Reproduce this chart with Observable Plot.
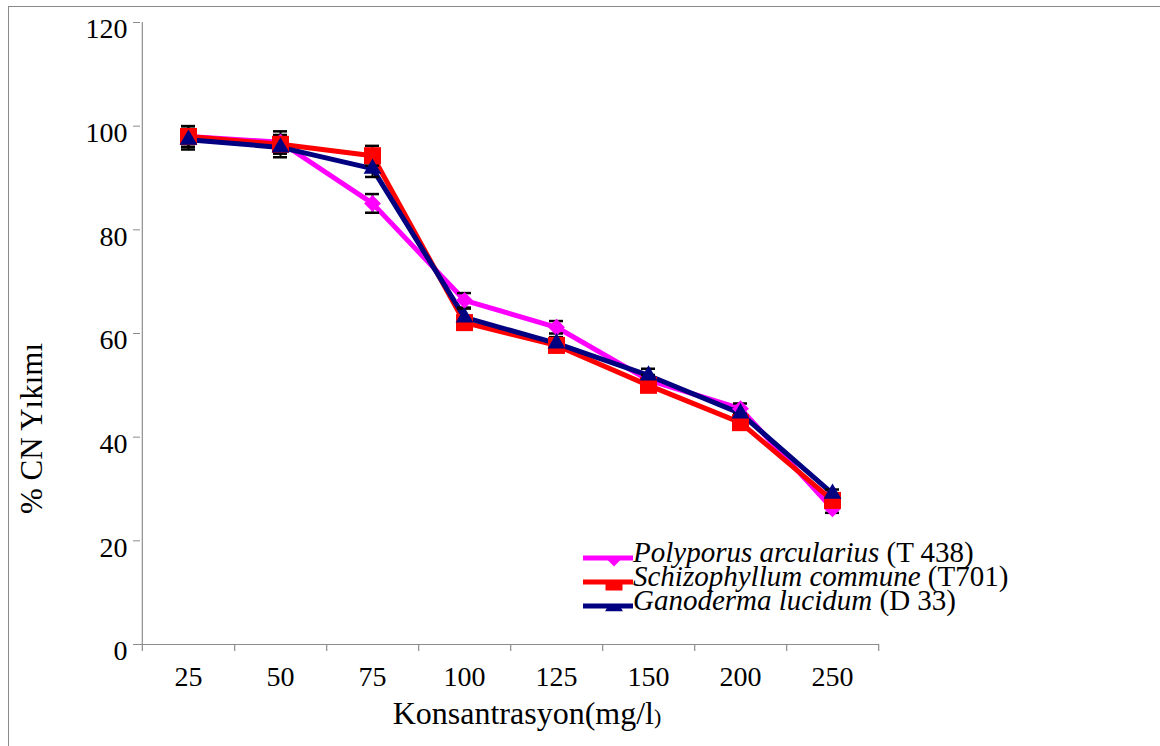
<!DOCTYPE html>
<html>
<head>
<meta charset="utf-8">
<script src="https://cdn.jsdelivr.net/npm/d3@7"></script>
<script src="https://cdn.jsdelivr.net/npm/@observablehq/plot@0.6"></script>
<style>
  body { margin: 0; background: #fff; }
  #wrap { position: relative; width: 1160px; height: 746px; overflow: hidden;
          font-family: "Liberation Serif", "Times New Roman", serif; background: #fff; }
  #edge { position: absolute; left: 8px; top: 6px; right: -4px; bottom: -4px;
          border-left: 1.5px solid #8a8a8a; border-top: 1.5px solid #8a8a8a; }
  #chart, #legend { position: absolute; left: 0; top: 0; }
</style>
</head>
<body>
<div id="wrap">
  <div id="edge"></div>
  <div id="chart"></div>
  <svg id="legend" width="1160" height="746"></svg>
</div>
<script>
// Concentration categories (mg/l)
const concentrations = ["25", "50", "75", "100", "125", "150", "200", "250"];
const yTicks = [0, 20, 40, 60, 80, 100, 120];

// % CN degradation per strain
const polyporus     = [98.0, 96.9, 85.1, 66.4, 61.2, 51.0, 45.5, 26.2];
const schizophyllum = [98.0, 96.5, 94.3, 62.1, 57.7, 50.0, 42.8, 27.8];
const ganoderma     = [97.4, 95.9, 91.8, 63.1, 58.1, 51.9, 44.6, 29.1];

// standard errors
const polyporusErr     = [2.0, 2.1, 1.8, 1.4, 1.2, 1.0, 1.0, 0.8];
const schizophyllumErr = [2.0, 1.8, 1.9, 1.0, 1.0, 1.0, 0.8, 0.8];
const ganodermaErr     = [1.9, 1.9, 1.6, 1.7, 1.2, 1.3, 1.0, 0.8];

const seriesNames = ["Polyporus arcularius", "Schizophyllum commune", "Ganoderma lucidum"];
const seriesCodes = ["(T 438)", "(T701)", "(D 33)"];
const seriesColors = ["#ff00ff", "#ff0000", "#000080"];

const series = [
  {name: seriesNames[0], values: polyporus, errors: polyporusErr, color: seriesColors[0], symbol: d3.symbolDiamond2, r: 7.6},
  {name: seriesNames[1], values: schizophyllum, errors: schizophyllumErr, color: seriesColors[1], symbol: d3.symbolSquare, r: 9.6},
  {name: seriesNames[2], values: ganoderma, errors: ganodermaErr, color: seriesColors[2], symbol: d3.symbolTriangle, r: 6.6}
];

const W = 1160, H = 746, ML = 140, MR = 281, MT = 22, MB = 102;
const step = (W - ML - MR) / concentrations.length;
const axisGray = "#8c8c8c";
const tickDepth = -1.35;
const serif = "Liberation Serif, Times New Roman, serif";

const rows = series.map(s => concentrations.map((c, i) => ({series: s.name, cat: c, v: s.values[i], e: s.errors[i]})));

const marks = [
  // axis lines and category boundary ticks
  Plot.ruleY([0], {stroke: axisGray, strokeWidth: 1.2}),
  Plot.ruleX([concentrations[0]], {y1: tickDepth, y2: 120, dx: -step / 2, stroke: axisGray, strokeWidth: 1.2}),
  Plot.ruleX(concentrations, {y1: tickDepth, y2: 0, dx: step / 2, stroke: axisGray, strokeWidth: 1.2}),
  // y tick marks, then y tick labels (labels sit a little below their ticks)
  Plot.axisY({ticks: yTicks, tickSize: 7, stroke: axisGray, fill: "none", label: null}),
  Plot.axisY({ticks: yTicks, tickSize: 0, tickPadding: 13, dy: 7, fontSize: 28, fill: "black", label: null}),
  Plot.axisX({tickSize: 0, tickPadding: 22, fontSize: 28, fill: "black", label: null}),
  // axis titles
  Plot.text(["% CN Yıkımı"], {frameAnchor: "left", textAnchor: "middle", lineAnchor: "middle",
    rotate: -90, dx: -108, dy: 95, fontSize: 31, fill: "black"}),
  Plot.text(["Konsantrasyon(mg/l)"], {frameAnchor: "bottom", textAnchor: "middle", lineAnchor: "middle",
    dx: 17, dy: 69, fontSize: 32, fill: "black"})
];

// lines
series.forEach((s, k) => {
  marks.push(Plot.line(rows[k], {x: "cat", y: "v", stroke: s.color, strokeWidth: 5, strokeLinejoin: "round"}));
});
// error bars
series.forEach((s, k) => {
  marks.push(
    Plot.ruleX(rows[k], {x: "cat", y1: d => d.v - d.e, y2: d => d.v + d.e, stroke: "black", strokeWidth: 2}),
    Plot.ruleY(rows[k], {x1: "cat", x2: "cat", y: d => d.v + d.e, insetLeft: -7, insetRight: -7, stroke: "black", strokeWidth: 2.5}),
    Plot.ruleY(rows[k], {x1: "cat", x2: "cat", y: d => d.v - d.e, insetLeft: -7, insetRight: -7, stroke: "black", strokeWidth: 2.5})
  );
});
// markers
series.forEach((s, k) => {
  marks.push(Plot.dot(rows[k], {x: "cat", y: "v", symbol: s.symbol, r: s.r, fill: s.color, stroke: "none"}));
});

const chart = Plot.plot({
  width: W, height: H,
  marginLeft: ML, marginRight: MR, marginTop: MT, marginBottom: MB,
  style: {fontFamily: serif, fontSize: "28px", background: "transparent", overflow: "visible"},
  x: {type: "point", domain: concentrations, padding: 0.5, align: 0.5},
  y: {domain: [0, 120]},
  marks
});
document.getElementById("chart").appendChild(chart);

// smaller closing parenthesis in the x title
d3.select(chart).selectAll("text").each(function() {
  if (this.textContent === "Konsantrasyon(mg/l)") {
    const t = d3.select(this);
    t.text(null);
    t.append("tspan").text("Konsantrasyon(mg/l");
    t.append("tspan").attr("font-size", 22).text(")");
  }
});

// legend inside the plot area
const legend = d3.select("#legend");
const lx0 = 583, lx1 = 633, ly0 = 558, lgap = 24, markX = 614;
series.forEach((s, k) => {
  const y = ly0 + k * lgap;
  const clipId = "lclip" + k;
  legend.append("clipPath").attr("id", clipId)
    .append("rect").attr("x", lx0).attr("y", y).attr("width", lx1 - lx0).attr("height", 20);
  const g = legend.append("g");
  g.append("g").attr("clip-path", `url(#${clipId})`)
    .append("path")
    .attr("d", d3.symbol(s.symbol, Math.PI * s.r * s.r)())
    .attr("transform", `translate(${markX},${y})`)
    .attr("fill", s.color);
  g.append("line").attr("x1", lx0).attr("x2", lx1).attr("y1", y).attr("y2", y)
    .attr("stroke", s.color).attr("stroke-width", 5);
  const t = g.append("text").attr("x", lx1).attr("y", y + 4)
    .attr("font-family", serif).attr("font-size", 29).attr("fill", "black");
  t.append("tspan").attr("font-style", "italic").text(s.name);
  t.append("tspan").text(" " + seriesCodes[k]);
});
</script>
</body>
</html>
